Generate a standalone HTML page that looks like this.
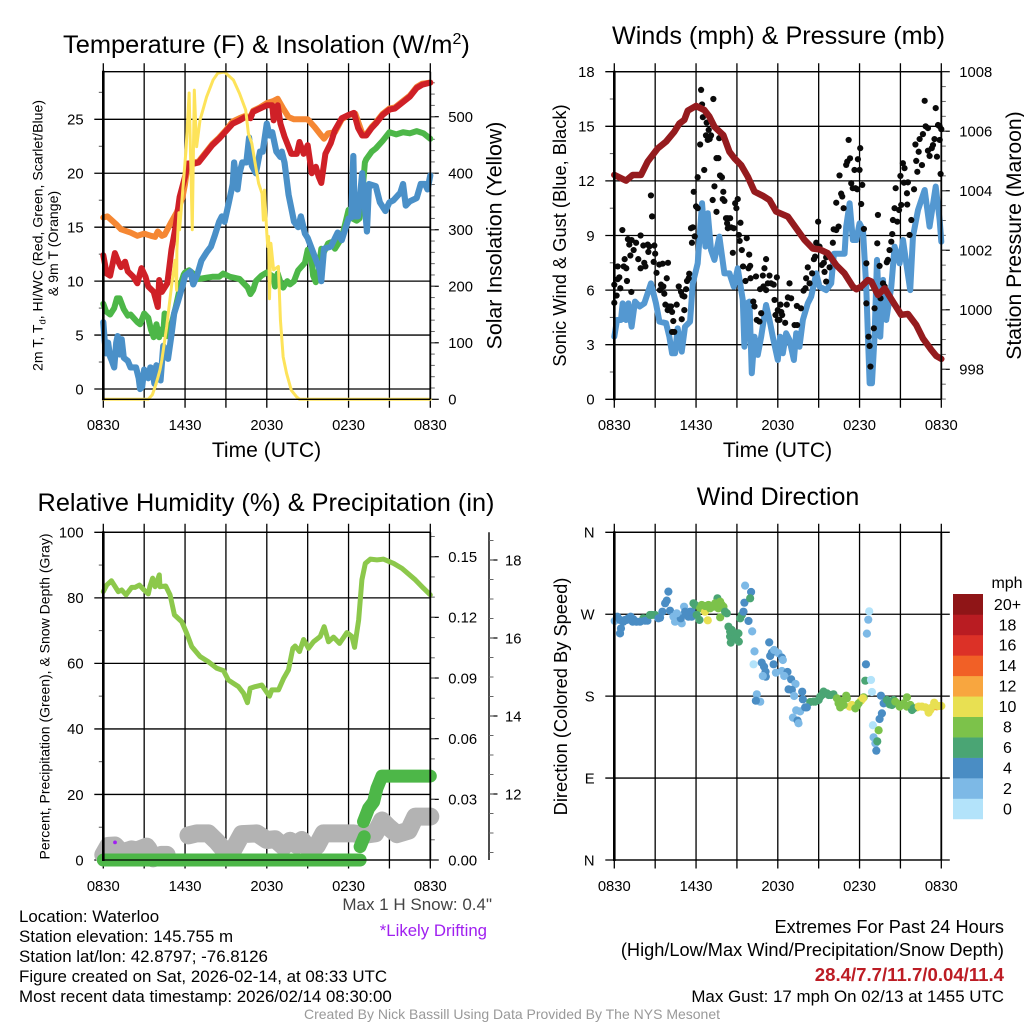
<!DOCTYPE html>
<html lang="en">
<head>
<meta charset="utf-8">
<title>Mesonet Station Meteogram</title>
<style>
html,body{margin:0;padding:0;background:#fff;width:1024px;height:1024px;overflow:hidden}
svg{display:block}
text{font-family:"Liberation Sans",sans-serif;fill:#000}
</style>
</head>
<body>
<svg id="chart" xmlns="http://www.w3.org/2000/svg" width="1024" height="1024" viewBox="0 0 1024 1024">
<rect x="0" y="0" width="1024" height="1024" fill="#fff"/>
<g id="panel-temp"></g>
<g id="panel-wind"></g>
<g id="panel-rh"></g>
<g id="panel-dir"></g>

<text x="63" y="53" font-size="25.4">Temperature (F) &amp; Insolation (W/m<tspan dy="-9" font-size="16">2</tspan><tspan dy="9">)</tspan></text>
<text x="778.5" y="44" font-size="25.2" text-anchor="middle">Winds (mph) &amp; Pressure (mb)</text>
<text x="266" y="511" font-size="25.3" text-anchor="middle">Relative Humidity (%) &amp; Precipitation (in)</text>
<text x="778" y="505" font-size="25" text-anchor="middle">Wind Direction</text>

<text x="266.5" y="457" font-size="21.1" text-anchor="middle">Time (UTC)</text>
<text x="777.5" y="457" font-size="21.1" text-anchor="middle">Time (UTC)</text>

<text transform="translate(42.5 235.5) rotate(-90)" font-size="14.1" text-anchor="middle">2m T, T<tspan dy="3" font-size="9.4">d</tspan><tspan dy="-3">, HI/WC (Red, Green, Scarlet/Blue)</tspan></text>
<text transform="translate(58 243.5) rotate(-90)" font-size="14.1" text-anchor="middle">&amp; 9m T (Orange)</text>
<text transform="translate(501.5 235.5) rotate(-90)" font-size="21.3" text-anchor="middle">Solar Insolation (Yellow)</text>
<text transform="translate(566 235.5) rotate(-90)" font-size="18.3" text-anchor="middle">Sonic Wind &amp; Gust (Blue, Black)</text>
<text transform="translate(1021 235.5) rotate(-90)" font-size="21.2" text-anchor="middle">Station Pressure (Maroon)</text>
<text transform="translate(49.5 696.5) rotate(-90)" font-size="14" text-anchor="middle">Percent, Precipitation (Green), &amp; Snow Depth (Gray)</text>
<text transform="translate(567 696.5) rotate(-90)" font-size="18.3" text-anchor="middle">Direction (Colored By Speed)</text>

<text x="19" y="922" font-size="16.9">Location: Waterloo</text>
<text x="19" y="942" font-size="16.9">Station elevation: 145.755 m</text>
<text x="19" y="962" font-size="16.9">Station lat/lon: 42.8797; -76.8126</text>
<text x="19" y="982" font-size="16.9">Figure created on Sat, 2026-02-14, at 08:33 UTC</text>
<text x="19" y="1002" font-size="16.9">Most recent data timestamp: 2026/02/14 08:30:00</text>

<text x="492" y="910" font-size="17" text-anchor="end" style="fill:#444">Max 1 H Snow: 0.4"</text>
<text x="487" y="936" font-size="16.8" text-anchor="end" style="fill:#a020f0">*Likely Drifting</text>

<text x="1004" y="933" font-size="18.2" text-anchor="end">Extremes For Past 24 Hours</text>
<text x="1004" y="956" font-size="18.2" text-anchor="end">(High/Low/Max Wind/Precipitation/Snow Depth)</text>
<text x="1004" y="981" font-size="18.6" font-weight="bold" text-anchor="end" style="fill:#bc1c24">28.4/7.7/11.7/0.04/11.4</text>
<text x="1004" y="1002" font-size="16.9" text-anchor="end">Max Gust: 17 mph On 02/13 at 1455 UTC</text>
<text x="512" y="1019" font-size="14" text-anchor="middle" style="fill:#999">Created By Nick Bassill Using Data Provided By The NYS Mesonet</text>
</svg>

<script>
/* ---------- axis tick data ---------- */
const timeTickLabels = ['0830', '1430', '2030', '0230', '0830'];
const tempTicks = [0, 5, 10, 15, 20, 25];
const solarTicks = [0, 100, 200, 300, 400, 500];
const windTicks = [0, 3, 6, 9, 12, 15, 18];
const pressureTicks = [998, 1000, 1002, 1004, 1006, 1008];
const rhTicks = [0, 20, 40, 60, 80, 100];
const precipTicks = [0, 0.03, 0.06, 0.09, 0.12, 0.15];
const precipTickLabels = ['0.00', '0.03', '0.06', '0.09', '0.12', '0.15'];
const snowTicks = [12, 14, 16, 18];
const directionTicks = [360, 270, 180, 90, 0];
const directionTickLabels = ['N', 'W', 'S', 'E', 'N'];
const speedLabels = ['0', '2', '4', '6', '8', '10', '12', '14', '16', '18', '20+'];
const speedColors = ['#b3e3fa', '#7db9e6', '#4a8dc4', '#4aa574', '#7cc24a', '#e8e052', '#f8a63f', '#f16026', '#dc3127', '#b91c22', '#8f1517'];

/* ---------- temperature panel data ---------- */
const heatIndexHours = [0,.25,.5,.85,1.1,1.3,1.6,1.8,2.2,2.5,2.8,3.1,3.3,3.7,4,4.1,4.3,4.7,5,5.3,5.6,6,6.2,6.7,7,7.5,8,8.5,9,9.5,10,10.4,10.8,11,11.5,12,12.4,12.5,12.8,13,13.3,13.8,14.2,14.4,14.7,15,15.3,15.6,15.8,16,16.3,16.7,17,17.5,18,18.4,18.7,19,19.3,19.7,20,20.5,21,21.4,22,22.5,23,23.4,24];
const heatIndexValues = [12.4,10.7,10.5,12.6,11.8,11.3,11.8,10.9,10.4,9.8,11.2,10.4,9.5,9,7.6,10.1,9,9.8,12.9,15,17.8,19.7,20.9,20.9,21,21.8,22.6,23.2,23.9,24.6,24.9,25.2,25.1,25.7,26,26.3,26.3,24.9,26.3,24.6,23.4,21.8,21.8,22.9,21.8,22.6,20,20.6,19.7,19.1,21.8,22.8,24,25.1,25.4,25.6,24.2,23.5,23.5,24.2,24.6,25.4,25.9,26,26.6,27.1,27.9,28.2,28.4];
const orangeHours = [0,.3,1,1.3,2,2.5,3,3.5,3.8,4,4.3,4.5,5,5.4,5.8,6,6.2,6.7,7,7.5,8,8.5,9,9.5,10,10.4,10.8,11,11.5,12,12.5,12.8,13.2,13.6,14,15,15.5,16,16.2,16.5,17,17.5,18,18.5,19,19.3,19.7,20,20.5,21,21.4,22,22.5,23,23.4,24];
const orangeValues = [15.9,16,15.2,14.8,14.5,14.2,14.4,14.2,14.1,14.6,14.2,14.3,15.5,16.4,17.7,19,20.9,21,21.1,21.9,22.7,23.3,24,24.8,25.1,25.3,25.2,25.8,26.1,26.5,26.7,26.9,26,25.2,25,25,24.3,23.5,23.2,23.7,23.8,25,25.4,25.5,23.7,23.6,24.3,24.7,25.5,26,26.1,26.7,27.2,28,28.3,28.4];
const dewPointHours = [0,.2,.5,.8,1,1.2,1.5,1.8,2,2.5,2.7,3,3.3,3.5,3.7,3.9,4.1,4.2,4.4,4.5,4.7,5,5.3,5.7,5.9,6,6.3,6.6,7,7.5,8,8.5,8.8,9.3,10,10.3,10.6,10.8,11,11.2,11.6,12,12.5,12.6,12.8,13,13.2,13.5,13.7,14,14.3,14.8,15,15.2,15.4,15.6,15.8,16,16.2,16.5,16.7,17,17.5,18,18.3,18.6,18.8,19,19.2,19.3,19.7,20,20.5,21,21.5,22,22.5,23,23.5,24];
const dewPointValues = [7.9,7.2,6.9,7.5,8.4,8.4,7.4,6.8,6.9,6.2,6,7,6.6,5.5,4.8,6,4.8,5.5,5.1,7,4.9,6,7.5,9.8,10.6,10.8,11,10.7,10.2,10.3,10.4,10.4,10.7,10.4,10.2,9.8,9.4,8.8,9.2,10,10.5,10.8,10.4,9.5,10.7,9.9,9.4,10,9.7,10,11,11.7,12.9,12.9,10.5,9.9,11,13,12.7,13.5,13.6,13,14,16.6,15.8,15.6,15.8,18,21,21.3,22,22.3,23,23.8,23.6,23.8,23.7,23.9,23.7,23.2];
const windChillHours = [0,.1,.2,.35,.5,.6,.8,.95,1.05,1.2,1.35,1.5,1.8,2,2.4,2.6,2.7,2.85,3,3.3,3.45,3.6,3.75,3.9,4.1,4.2,4.4,4.6,4.75,5,5.2,5.5,5.8,6,6.4,6.6,6.9,7.2,7.6,7.9,8.2,8.5,8.7,8.9,9.2,9.5,9.6,9.7,9.85,10,10.2,10.5,10.7,10.9,11.2,11.5,11.7,12,12.2,12.4,12.7,13,13.1,13.3,13.6,14,14.3,14.5,14.8,15,15.3,15.6,15.9,16,16.2,16.7,17.2,17.5,18,18.2,18.35,18.45,18.7,19,19.35,19.5,20,20.3,20.7,21,21.3,21.8,22,22.2,22.5,23,23.3,23.6,23.8,24];
const windChillValues = [6.2,4.5,3.3,4.3,3,2.7,2,4.3,4.9,3.2,4.6,2.9,2.6,2,2,1,0,.2,1.8,1,2,1.9,.5,2.2,1.9,.8,4,3.6,2.8,5,7,8.2,9.5,10.5,10.9,9.7,10.6,11.9,12.7,13.2,14.3,15.5,16,15.5,17.2,19,21,20,18.5,20,21,21,23.3,20.7,20,22,22,24.6,23.5,23.8,22,21.5,22,21,18,15.5,15,16,14.4,14,13,12,11,10,13,13.2,14.5,13.8,15.8,15.9,21.6,16,16,20,14.6,19,18.8,17.3,16.5,17.3,17.5,18.2,19,17,17.4,17.7,19,19,18.5,19.8];
const solarHours = [0,3.3,3.6,3.8,4,4.16,4.3,4.65,5,5.26,5.38,5.4,5.55,5.6,6.07,6.3,6.53,6.68,6.85,7.1,7.58,8.06,8.4,8.9,9.55,10,10.45,10.65,10.9,11.15,11.4,11.65,11.75,11.83,12,12.07,12.13,12.2,12.3,12.5,12.85,13,13.2,13.45,13.8,14.2,14.4,24];
const solarValues = [0,0,8,22,38,52,70,128,199,246,193,264,330,300,441,542,300,547,447,494,535,565,577,579,565,541,512,470,453,417,382,364,317,370,294,270,288,178,276,229,235,140,75,46,16,4,0,0];

/* ---------- wind panel data ---------- */
const sonicHours = [0,.2,.49,.61,.86,1.03,1.27,1.52,1.86,2.2,2.69,3.06,3.31,3.8,4.04,4.24,4.46,4.65,4.95,5.19,5.56,5.76,6.12,6.44,6.69,6.86,7.1,7.35,7.71,8.08,8.45,8.77,9.06,9.43,9.55,9.72,9.92,10.09,10.29,10.53,10.78,11.14,11.39,11.63,12,12.17,12.37,12.61,12.86,13.18,13.35,13.59,13.84,14.2,14.45,14.82,15.06,15.55,15.92,16.12,16.53,16.9,17.02,17.27,17.51,17.76,18,18.25,18.49,18.66,18.74,18.91,19.1,19.28,19.52,19.72,19.96,20.33,20.57,20.94,21.19,21.43,21.72,21.92,22.29,22.78,23.14,23.59,23.88,24];
const sonicValues = [3.44,4.36,4.36,5.27,4.36,5.27,3.99,5.37,5.1,5.27,6.37,5.27,4.27,4.18,3.44,2.53,2.53,3.9,2.62,3.99,4.27,6.37,7.47,10.77,8.39,10.22,8.2,7.66,8.94,6.92,6.92,6.19,7.2,5.46,2.89,5.27,5.37,1.43,3.44,2.44,3.44,5.18,4.36,3.44,2.16,3.44,2.53,3.63,3.26,2.16,3.63,2.89,4.36,5.27,5.64,6.92,6.19,6,6.37,8,8,8,9.49,10.77,8.75,8.75,9.67,9.3,6.19,2.53,.88,.88,3.44,7.66,3.44,6.56,4.36,6.19,8.39,7.47,8.75,7.47,6,8.94,10.4,11.5,9.49,11.69,9.85,8.66];
const gustHours = [0,0,.17,.25,.37,.44,.25,.59,.76,.69,.88,.93,1.25,1,1.1,1.27,1.18,1.42,1.6,1.76,1.93,1.93,2.2,2.28,2.13,2.45,2.5,2.57,2.69,2.77,2.94,3,2.89,3.1,3.3,3.55,3.94,3.43,3.6,3.35,3.67,3.85,3.75,4,3.92,4.16,4.24,4.33,4.24,4.4,4.58,4.73,4.9,5,4.95,5.14,5.14,5.27,5.34,5.46,5.5,5.63,5.76,5.83,5.7,5.9,6,6.12,6.12,6.3,6.37,6.44,6.5,6.6,6.73,6.78,6.86,7,6.93,7.1,7.27,7.22,7.35,7.5,7.64,7.5,7.7,7.76,7.9,7.96,8,8.08,8.2,8.33,8.5,8.28,8.33,8.57,8.77,8.7,8.87,8.96,9.06,9.14,9.26,9.2,9.36,9.45,9.63,9.72,9.85,9.9,9.97,10,10.4,10.2,10.29,10.46,10.65,10.78,10.7,10.9,11.02,11.14,10.95,11.14,11.27,11.39,11.5,11.7,11.93,11.76,11.83,12,12,12.2,12.25,12.32,12.12,12.54,12.66,12.74,12.86,12.98,13.4,13.7,13.23,13.42,13.89,14.03,14.08,14.2,14.33,14.52,14.65,14.74,14.82,14.96,15.06,15.23,15.38,15.43,15.55,15.8,15.55,16.04,16.1,16.29,16.46,16.29,16.65,16.73,16.83,16.53,17.02,17.2,17.3,17.1,17.39,17.5,17.63,17.7,17.88,18,17.83,18.05,18.2,18.12,18.32,18.5,18.5,18.66,18.74,18.8,19.3,19.35,19.47,19.54,19.1,19.05,19.72,19.84,20.2,20.08,20,20.33,20.4,20.45,20.57,20.65,20.77,20.9,21,21.06,21.18,21.26,21.3,21.55,21.48,21.5,21.67,21.8,22,22.1,22.16,22.24,22.34,22.41,22.58,22.65,22.78,22.85,23.02,23.02,23.14,23.3,23.39,23.5,23.59,23.68,23.76,23.88,23.88,24,23.95];
const gustValues = [5.3,6.3,5.7,6.6,6.7,6.1,7.3,9.3,7.7,7.3,7.2,6.5,5.9,8.8,8.5,8.75,7.9,8.2,8.6,7.7,9,7.2,7.5,7.3,8.45,8.5,8.1,8.4,11.2,10.05,8.45,8,7.55,6.95,7.4,7.45,7.5,6.3,6.2,6,5.8,6.65,5.2,5.1,4.9,5.1,4.8,4.3,3.7,3.7,5.2,6.2,5.9,5.7,4.4,4.9,5.65,6.05,6.5,6.65,6.9,9.4,9.45,11.4,8.6,8.95,10.6,10.5,12.2,14,17,16.2,15.5,12.6,14.5,15.2,14.25,14.3,14.8,14.5,16.5,10.95,11.7,13.25,13.25,10.3,14.35,12.3,12.2,11,11.4,10.9,9.95,9.95,9.95,9.67,9.4,9.45,9.4,8.05,10.77,10.5,11,9.03,9.7,8.7,8.2,7.3,6.5,8.85,7.2,7.95,7.33,6.65,6.75,5.37,5.1,4.36,4.27,4.73,6.05,6.8,7.2,7.7,6.2,6,6.37,6.8,6.37,6.3,6.7,5.46,4.63,4.9,4.36,5.2,4.8,4.63,4.36,4.2,5.2,5.6,6.37,5.55,5.13,5,4.08,4.08,5.97,6.1,6.65,7.25,6.37,6.92,7.7,7.84,8.6,9.76,8.39,7.38,7.5,7,7.8,7.25,6.47,8.6,9.34,9.3,9.49,10.8,11.3,11.14,10.5,12.3,12.88,14.25,13.24,13.06,11.87,11.6,12.6,11.6,13.19,12.6,11.54,13.8,11.78,10.73,9.36,7.47,5.27,3.44,2.93,1.8,8.57,10.13,7.33,5.55,5,3.9,6.37,6.2,8.2,7.66,7.53,8.66,9.08,9.85,10.5,11.6,9.76,10.4,12.27,10.68,12.97,11.9,12.7,11.92,11.32,10.7,9.03,9.85,11.54,14,13.1,12.5,13.6,14.3,12.87,14.57,16.4,15,14.9,13.66,13.37,13.8,13.97,14.3,16,13.33,15.07,14.25,15,14.84,12.38];
const pressureHours = [0,.86,1.35,1.96,2.45,3.18,3.8,4.4,4.78,5.14,5.39,6,6.61,6.98,7.35,8,8.45,8.82,9.31,9.8,10.29,10.9,11.39,11.88,12.74,13.35,13.96,14.57,15.06,15.67,16.29,16.9,17.51,17.76,18.12,18.61,18.86,19.35,19.84,20.45,21.06,21.55,22.16,22.65,23.27,23.63,24];
const pressureValues = [1004.53,1004.34,1004.53,1004.53,1004.98,1005.42,1005.65,1005.98,1006.26,1006.38,1006.69,1006.85,1006.71,1006.49,1006.15,1005.87,1005.31,1005.09,1004.86,1004.47,1003.97,1003.83,1003.69,1003.3,1003.13,1002.74,1002.35,1002.06,1002.03,1001.9,1001.5,1001.22,1000.78,1000.69,1000.78,1001,1000.95,1000.5,1000.72,1000.27,999.83,999.86,999.49,999.04,998.65,998.45,998.35];

/* ---------- humidity panel data ---------- */
const rhHours = [0,.25,.6,1.1,1.35,1.67,2.08,2.33,2.65,2.99,3.3,3.43,3.62,3.8,4.11,4.16,4.58,4.9,5.22,5.76,6.12,6.49,7.1,7.71,8.33,8.82,9.18,9.55,9.92,10.29,10.58,10.78,11.14,11.63,11.88,12.2,12.37,12.86,13.23,13.59,13.91,14.08,14.4,14.7,15.06,15.43,15.92,16.21,16.53,16.9,17.34,17.88,18.25,18.44,18.74,18.98,19.23,19.6,20.08,20.57,21.31,21.92,22.9,23.51,24];
const rhValues = [81.9,83.9,85.2,81.9,82.4,80.9,83.2,83.2,83.9,82.4,81.2,83.6,86,83.4,87,83.4,83.6,80.9,74.8,72.7,69.2,65.1,62.1,60.5,58.5,57.8,54.9,53.9,52.9,50.9,48,52.4,52.9,53.4,51.9,50,51.9,51.9,55.4,58,64.6,65.3,63.6,67.3,64.6,66.6,68.2,71.2,66.6,68,66.1,69.4,68.2,64.9,73.2,85.5,90.5,91.8,91.6,91.8,90.5,89,85.5,82.9,80.9];
const precipHours = [0,18.85,null,18.85,19.15,null,19.1,19.47,19.84,20.08,20.45,24];
const precipValues = [0,0,null,.0066,.0115,null,.019,.0255,.0288,.0354,.0415,.0415];
const snowHours = [0,.37,.86,1.35,2.08,2.45,3.18,3.3,3.67,4.28,4.65,null,6.25,6.86,7.71,8.33,8.82,9.55,10.16,11.27,12,12.61,13.23,13.71,14.2,14.57,15.18,15.67,16.16,16.9,18.37,19.1,19.96,20.45,20.94,21.55,22.41,22.9,24];
const snowValues = [10.44,10.67,10.68,10.5,10.58,10.55,10.65,10.6,10.35,10.44,10.44,null,10.94,10.99,10.99,10.78,10.58,10.58,10.97,10.99,10.82,10.84,10.65,10.8,10.69,10.82,10.56,10.67,10.99,10.99,10.99,10.95,10.99,11.32,11.15,10.97,11.06,11.42,11.42];
const driftHours = [.86];
const driftValues = [10.76];

/* ---------- direction panel data ---------- */
const dirHours = [.03,.22,.42,.49,.42,.66,.91,1.2,1.35,1.64,2.13,2.43,2.75,2.99,3.36,3.53,3.73,3.85,3.97,4.09,4.34,4.46,4.7,4.95,5.12,4.88,5.2,5.44,5.68,5.68,5.81,5.93,6.25,6.3,6.66,6.66,6.86,7.03,7.28,7.57,7.77,7.64,8.01,7.77,8.26,8.38,8.62,8.75,8.5,8.55,9.11,9.14,9.24,9.36,9.48,9.55,9.6,10.04,9.97,9.85,10.12,10.29,10.22,10.82,10.99,11.1,11.12,10.9,11.37,11.44,11.56,11.73,11.69,11.86,12.05,12.3,12.37,12.3,12.71,12.47,12.98,13.3,12.79,13.03,13.2,13.79,13.84,10.46,10.71,10.39,13.35,13.64,13.11,13.45,13.52,14.01,14.38,14.75,15.24,15.36,15.73,16.09,16.58,16.58,17.02,17.27,17.81,18.1,18.3,18.47,18.42,18.84,18.91,18.54,18.64,18.71,19.57,19.77,19.64,19.47,20.21,20.5,20.75,21.11,21.48,21.48,21.85,22.22,22.58,23.07,22.95,23.48,23.32,23.66,24,18.98,19.4,19.03,19.16,19.3,19.23,14.13,14.62,15,15.11,15.6,15.9,16.34,16.46,16.7,16.83,17.07,17.44,17.69,17.93,18.25,20.01,20.38,20.62,20.94,21.24,21.73,21.97,22.34,22.83,23.19,23.56,23.81,.79,1.03,1.4,1.89,2.26,2.62,3.24,4.58,5.32,5.56,6.05,6.42,6.91,7.4,7.89,8.13,8.5,8.87,8.94];
const dirDegrees = [262.6,267.3,263.7,254.5,249,261.8,263.7,267.3,261.8,261.8,265.5,262.9,269.2,269.2,266.2,272.8,282,284.9,294.8,273.9,267.3,261.8,269.2,260,278.3,265.5,272.8,267.3,272.8,267.3,282,280.2,263.7,276.5,272.8,279,263.3,276.5,278.3,287.5,283.8,276.5,278.3,266.6,271,256.3,252.7,247.2,245.4,238.8,249,239.9,265.5,269.2,272.8,282.7,301.4,294.4,287.5,262.6,251.2,229.2,215,216.8,212.4,206.9,201.4,202.1,239.1,224.1,227.8,230.7,215,205.8,227.1,222.3,219.7,207.6,206.5,202.1,198.5,193.4,187.5,186.8,180.2,184.9,176.5,182,173.9,175,164.4,163.3,156.4,153.1,150.2,167.7,173.6,174,181.3,185,181.3,182,175,167.7,180.5,168.5,169.2,175,178.7,215,197,197.8,184.6,248.7,264,273.2,180.5,172.1,161.1,154.9,171,175.8,172.1,170.3,178.7,168.5,164.8,167.7,168.5,161.9,166.6,172.8,167.7,168.8,169.2,148,142.5,134.8,128.2,130.4,120.1,167.7,174,175.8,179.4,183.1,181.3,177.6,172.1,174,170.3,177.6,170.3,166.6,172.1,177.6,175.8,170.3,174,168.5,172.1,170.3,166.6,168.5,167.7,164.8,170.3,169.2,263.7,265.5,264.4,261.8,262.9,269.2,265.5,271,271,272.8,269.2,280.2,280.2,282,280.2,272.8,250.9,249,243.5];
const dirSpeeds = [3,5,5,5,5,5,5,5,5,5,7,5,7,7,5,5,5,5,5,5,3,3,3,3,3,5,5,5,5,5,7,7,7,9,11,9,11,9,9,7,9,9,9,9,7,7,7,7,7,7,7,7,7,7,5,5,3,5,7,5,3,3,1,5,5,5,5,3,5,5,5,3,5,3,3,5,3,3,5,3,5,3,5,5,3,5,5,3,3,5,3,3,3,5,3,5,7,7,7,7,7,7,9,9,9,11,9,11,9,5,7,1,1,3,3,1,5,5,5,5,7,7,9,9,9,9,7,11,11,11,11,11,11,13,11,1,9,3,3,7,5,5,7,7,7,7,7,9,9,9,9,9,11,9,9,11,7,7,9,9,9,9,7,11,11,11,11,11,5,5,5,5,5,7,5,3,5,5,7,9,9,9,9,7,7,7,7];

/* ---------- scales ---------- */
const SVGNS = 'http://www.w3.org/2000/svg';
const PANEL_W = 327;
const HOURS_SPAN = 24;
const TOP_A = 71.7, BOTTOM_A = 399.3;
const TOP_B = 532.3, BOTTOM_B = 860;
const LEFT_A = 103.3, LEFT_B = 614.3;

function linear(d0, d1, r0, r1) {
  return function (v) { return r0 + (v - d0) * (r1 - r0) / (d1 - d0); };
}
const tempY = linear(0, 25, 389, 119.3);
const solarY = linear(0, 500, BOTTOM_A, 116.7);
const windY = linear(0, 18, BOTTOM_A, TOP_A);
const pressureY = linear(998, 1008, 369.3, TOP_A);
const rhY = linear(0, 100, BOTTOM_B, TOP_B);
const precipY = linear(0, 0.15, BOTTOM_B, 556.7);
const snowY = linear(12, 18, 794, 560);
const dirY = linear(0, 360, BOTTOM_B, TOP_B);
const xLeft = linear(0, HOURS_SPAN, LEFT_A, LEFT_A + PANEL_W);
const xRight = linear(0, HOURS_SPAN, LEFT_B, LEFT_B + PANEL_W);

/* ---------- drawing helpers ---------- */
function make(tag, attrs, parent) {
  const node = document.createElementNS(SVGNS, tag);
  for (const key in attrs) node.setAttribute(key, attrs[key]);
  parent.appendChild(node);
  return node;
}
function pathFrom(hours, values, xFn, yFn) {
  let d = '', pen = false;
  for (let i = 0; i < hours.length; i++) {
    if (hours[i] === null || values[i] === null) { pen = false; continue; }
    d += (pen ? 'L' : 'M') + xFn(hours[i]).toFixed(2) + ' ' + yFn(values[i]).toFixed(2);
    pen = true;
  }
  return d;
}
function drawSeries(parent, name, hours, values, xFn, yFn, color, width, cap) {
  const el = make('path', {
    d: pathFrom(hours, values, xFn, yFn),
    fill: 'none', stroke: color, 'stroke-width': width,
    'stroke-linejoin': 'round', 'stroke-linecap': cap || 'round'
  }, parent);
  
  
  return el;
}
function drawLine(parent, x1, y1, x2, y2, width, color) {
  const el = make('line', { x1: x1, y1: y1, x2: x2, y2: y2, stroke: color || '#000', 'stroke-width': width }, parent);
  return el;
}
function drawVerticalFrame(parent, x0, top, bottom) {
  for (let i = 0; i <= 8; i++) {
    const x = x0 + PANEL_W * i / 8;
    const el = drawLine(parent, x, top - 8.5, x, bottom + 8.5, 1.3);
    
    
  }
  timeTickLabels.forEach(function (label, i) {
    const t = make('text', { x: x0 + PANEL_W * i / 4, y: bottom + 30.8, 'font-size': 14.8, 'text-anchor': 'middle' }, parent);
    t.textContent = label;
    
    
  });
}
function drawLeftAxis(parent, x0, ticks, labels, yFn, minorStep, minorMin, minorMax, extendRight) {
  ticks.forEach(function (v, i) {
    const y = yFn(v);
    const g = drawLine(parent, x0 - 9, y, x0 + PANEL_W + (extendRight ? 8.5 : 0), y, 1.3);
    
    
    const t = make('text', { x: x0 - 19.7, y: y + 5.3, 'font-size': 14.8, 'text-anchor': 'end' }, parent);
    t.textContent = labels ? labels[i] : String(v);
    
    
  });
  if (minorStep) {
    for (let v = minorMin; v <= minorMax + 1e-6; v += minorStep) {
      const m = drawLine(parent, x0 - 4.5, yFn(v), x0, yFn(v), 1, '#555');
      
      
    }
  }
}
function drawRightAxis(parent, x, ticks, labels, yFn, minorStep, minorMin, minorMax, labelOffset) {
  ticks.forEach(function (v, i) {
    const y = yFn(v);
    const m = drawLine(parent, x, y, x + 8.5, y, 1.2);
    
    
    const t = make('text', { x: x + labelOffset, y: y + 5.3, 'font-size': 14.8 }, parent);
    t.textContent = labels ? labels[i] : String(v);
    
    
  });
  for (let v = minorMin; v <= minorMax + 1e-6; v += minorStep) {
    const m = drawLine(parent, x, yFn(v), x + 4.5, yFn(v), 1, '#666');
    
    
  }
}
function drawBox(parent, x0, top, bottom) {
  const a = drawLine(parent, x0, top - 1, x0, bottom + 1, 2.6);
  
  
  const b = drawLine(parent, x0 + PANEL_W, top, x0 + PANEL_W, bottom, 1.8);
  
  
  const c = drawLine(parent, x0, top, x0 + PANEL_W, top, 1.3);
  
  
  const d = drawLine(parent, x0, bottom, x0 + PANEL_W, bottom, 1.3);
  
  
}

/* ---------- temperature panel ---------- */
const tempPanel = document.getElementById('panel-temp');
drawVerticalFrame(tempPanel, LEFT_A, TOP_A, BOTTOM_A);
drawLeftAxis(tempPanel, LEFT_A, tempTicks, null, tempY, 5, 2.5, 27.5, false);
drawRightAxis(tempPanel, LEFT_A + PANEL_W, solarTicks, null, solarY, 20, 20, 560, 18);
drawSeries(tempPanel, 'nine-meter-temperature-line', orangeHours, orangeValues, xLeft, tempY, '#f58733', 6);
drawSeries(tempPanel, 'dew-point-line', dewPointHours, dewPointValues, xLeft, tempY, '#4db748', 6);
drawSeries(tempPanel, 'wind-chill-line', windChillHours, windChillValues, xLeft, tempY, '#4a90c8', 6.2);
drawSeries(tempPanel, 'heat-index-line', heatIndexHours, heatIndexValues, xLeft, tempY, '#cf2027', 6);
drawSeries(tempPanel, 'solar-insolation-line', solarHours, solarValues, xLeft, solarY, '#fde35a', 3);
drawBox(tempPanel, LEFT_A, TOP_A, BOTTOM_A);

/* ---------- wind panel ---------- */
const windPanel = document.getElementById('panel-wind');
drawVerticalFrame(windPanel, LEFT_B, TOP_A, BOTTOM_A);
drawLeftAxis(windPanel, LEFT_B, windTicks, null, windY, 3, 1.5, 16.5, false);
drawRightAxis(windPanel, LEFT_B + PANEL_W, pressureTicks, null, pressureY, 0.5, 997, 1007.5, 18);
drawSeries(windPanel, 'sonic-wind-line', sonicHours, sonicValues, xRight, windY, '#5498d1', 6);
gustHours.forEach(function (h, i) {
  const dot = make('circle', { cx: xRight(h), cy: windY(gustValues[i]), r: 3.1, fill: '#0a0a0a' }, windPanel);
  
  
});
drawSeries(windPanel, 'station-pressure-line', pressureHours, pressureValues, xRight, pressureY, '#951b1e', 6.5);
drawBox(windPanel, LEFT_B, TOP_A, BOTTOM_A);

/* ---------- humidity panel ---------- */
const rhPanel = document.getElementById('panel-rh');
drawVerticalFrame(rhPanel, LEFT_A, TOP_B, BOTTOM_B);
drawLeftAxis(rhPanel, LEFT_A, rhTicks, null, rhY, 20, 10, 90, false);
drawRightAxis(rhPanel, LEFT_A + PANEL_W, precipTicks, precipTickLabels, precipY, 0.01, 0.01, 0.16, 18);
drawSeries(rhPanel, 'snow-depth-line', snowHours, snowValues, xLeft, snowY, '#b3b3b3', 18);
driftHours.forEach(function (h, i) {
  const dot = make('circle', { cx: xLeft(h), cy: snowY(driftValues[i]), r: 1.9, fill: '#a020f0' }, rhPanel);
  
  
});
drawSeries(rhPanel, 'precipitation-line', precipHours, precipValues, xLeft, precipY, '#4db748', 13);
drawSeries(rhPanel, 'relative-humidity-line', rhHours, rhValues, xLeft, rhY, '#8cc84b', 5);
drawBox(rhPanel, LEFT_A, TOP_B, BOTTOM_B);
const snowAxisX = 489;
const snowAxisLine = drawLine(rhPanel, snowAxisX, TOP_B, snowAxisX, BOTTOM_B, 1.6, '#222');


drawRightAxis(rhPanel, snowAxisX, snowTicks, null, snowY, 0.5, 10.5, 18.5, 16);

/* ---------- direction panel ---------- */
const dirPanel = document.getElementById('panel-dir');
drawVerticalFrame(dirPanel, LEFT_B, TOP_B, BOTTOM_B);
drawLeftAxis(dirPanel, LEFT_B, directionTicks, directionTickLabels, dirY, 0, 0, 0, true);
dirHours.forEach(function (h, i) {
  const bin = Math.min(speedColors.length - 1, Math.floor(dirSpeeds[i] / 2));
  const dot = make('circle', { cx: xRight(h), cy: dirY(dirDegrees[i]), r: 4.1, fill: speedColors[bin] }, dirPanel);
  
  
});
drawBox(dirPanel, LEFT_B, TOP_B, BOTTOM_B);

/* ---------- colorbar ---------- */
const barLeft = 953, barTop = 594, barWidth = 30, bandHeight = 20.45;
speedLabels.forEach(function (label, i) {
  const row = speedLabels.length - 1 - i;
  const band = make('rect', { x: barLeft, y: barTop + row * bandHeight, width: barWidth, height: bandHeight + 0.3, fill: speedColors[i] }, dirPanel);
  
  
  const t = make('text', { x: 1007.5, y: barTop + row * bandHeight + bandHeight / 2 + 5.6, 'font-size': 16, 'text-anchor': 'middle' }, dirPanel);
  t.textContent = label;
  
  
});
const barUnit = make('text', { x: 1007, y: 588, 'font-size': 16, 'text-anchor': 'middle' }, dirPanel);
barUnit.textContent = 'mph';


</script>
</body>
</html>
